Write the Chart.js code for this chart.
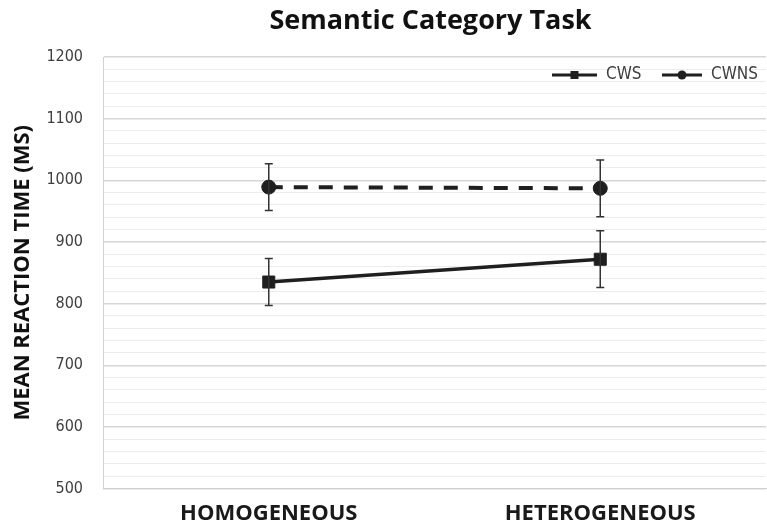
<!DOCTYPE html>
<html>
<head>
<meta charset="utf-8">
<script src="https://cdn.jsdelivr.net/npm/chart.js@4"></script>
<style>
  html, body { margin: 0; padding: 0; background: #fff; }
  #wrap { width: 767px; height: 527px; }
</style>
</head>
<body>
<div id="wrap"><canvas id="chart" width="767" height="527"></canvas></div>
<script>
// datos
const categories = ['HOMOGENEOUS', 'HETEROGENEOUS'];
const cwsMeans = [835, 872];
const cwsErr = [38, 46];
const cwnsMeans = [989, 987];
const cwnsErr = [38, 46];
const yTicks = [500, 600, 700, 800, 900, 1000, 1100, 1200];
const titleText = 'Semantic Category Task';

const ink = '#1f1f1f';

// titulo centrado sobre el area del grafico
const areaTitle = {
  id: 'areaTitle',
  afterDraw(chart) {
    const ctx = chart.ctx;
    const a = chart.chartArea;
    ctx.save();
    ctx.font = 'bold 27px "Open Sans", sans-serif';
    ctx.fillStyle = '#111';
    ctx.textAlign = 'center';
    ctx.textBaseline = 'middle';
    ctx.fillText(titleText, (a.left + a.right) / 2 - 4, 21);
    ctx.restore();
  }
};

// barras de error dibujadas con las escalas del grafico
const errorBars = {
  id: 'errorBars',
  afterDatasetsDraw(chart) {
    const ctx = chart.ctx;
    const y = chart.scales.y;
    chart.data.datasets.forEach((ds, i) => {
      const meta = chart.getDatasetMeta(i);
      meta.data.forEach((pt, j) => {
        const top = y.getPixelForValue(ds.data[j] + ds.err[j]);
        const bot = y.getPixelForValue(ds.data[j] - ds.err[j]);
        ctx.save();
        ctx.strokeStyle = '#333';
        ctx.lineWidth = 1.5;
        ctx.beginPath();
        ctx.moveTo(pt.x, top); ctx.lineTo(pt.x, bot);
        ctx.moveTo(pt.x - 4, top); ctx.lineTo(pt.x + 4, top);
        ctx.moveTo(pt.x - 4, bot); ctx.lineTo(pt.x + 4, bot);
        ctx.stroke();
        ctx.restore();
      });
    });
  }
};

// leyenda dentro del area del grafico, arriba a la derecha
const insideLegend = {
  id: 'insideLegend',
  afterDraw(chart) {
    const ctx = chart.ctx;
    const area = chart.chartArea;
    const ly = area.top + 18;
    const items = [
      { x: 552, len: 45, text: 'CWS', style: 'rect' },
      { x: 662, len: 40, text: 'CWNS', style: 'circle' }
    ];
    ctx.save();
    ctx.font = '17px "Liberation Sans Narrow", "DejaVu Sans Condensed", sans-serif';
    ctx.textBaseline = 'middle';
    items.forEach((it) => {
      ctx.strokeStyle = ink;
      ctx.lineWidth = 3;
      ctx.beginPath();
      ctx.moveTo(it.x, ly); ctx.lineTo(it.x + it.len, ly);
      ctx.stroke();
      ctx.fillStyle = ink;
      const cx = it.x + it.len / 2;
      if (it.style === 'rect') {
        ctx.fillRect(cx - 4, ly - 4, 8, 8);
      } else {
        ctx.beginPath();
        ctx.arc(cx, ly, 4.5, 0, Math.PI * 2);
        ctx.fill();
      }
      ctx.fillStyle = '#404040';
      ctx.fillText(it.text, it.x + it.len + 9, ly);
    });
    ctx.restore();
  }
};

new Chart(document.getElementById('chart').getContext('2d'), {
  type: 'line',
  data: {
    labels: categories,
    datasets: [
      {
        label: 'CWS',
        data: cwsMeans,
        err: cwsErr,
        borderColor: ink,
        backgroundColor: ink,
        borderWidth: 3.5,
        pointStyle: 'rect',
        pointRadius: 8.5,
        pointHoverRadius: 8.5,
        pointBorderWidth: 1,
        tension: 0
      },
      {
        label: 'CWNS',
        data: cwnsMeans,
        err: cwnsErr,
        borderColor: ink,
        backgroundColor: ink,
        borderWidth: 4,
        borderDash: [14, 11],
        pointStyle: 'circle',
        pointRadius: 7,
        pointHoverRadius: 7,
        pointBorderWidth: 1,
        tension: 0
      }
    ]
  },
  options: {
    responsive: false,
    animation: false,
    layout: { autoPadding: false, padding: { left: 10, right: 1, top: 57, bottom: -4 } },
    plugins: {
      legend: { display: false },
      tooltip: { enabled: false },
      title: { display: false }
    },
    scales: {
      x: {
        offset: true,
        grid: { display: false },
        border: { color: '#d0d0d0' },
        ticks: {
          color: '#1a1a1a',
          font: { family: '"Open Sans", sans-serif', size: 22, weight: 'bold' },
          padding: 4
        }
      },
      y: {
        min: yTicks[0],
        max: yTicks[yTicks.length - 1],
        border: { color: '#d0d0d0' },
        grid: {
          drawTicks: false,
          color: (c) => (c.tick && c.tick.value % 100 === 0) ? '#d6d6d6' : '#ececec',
          lineWidth: (c) => (c.tick && c.tick.value % 100 === 0) ? 1.5 : 1
        },
        ticks: {
          stepSize: 20,
          autoSkip: false,
          padding: 20,
          color: '#404040',
          font: { family: '"Liberation Sans Narrow", "DejaVu Sans Condensed", sans-serif', size: 16 },
          callback: (v) => yTicks.includes(v) ? String(v) : ''
        },
        title: {
          display: true,
          text: 'MEAN REACTION TIME (MS)',
          color: '#111',
          font: { family: '"Open Sans", sans-serif', size: 22, weight: 'bold' },
          padding: { top: 0, bottom: -10 }
        }
      }
    }
  },
  plugins: [areaTitle, errorBars, insideLegend]
});
</script>
</body>
</html>
